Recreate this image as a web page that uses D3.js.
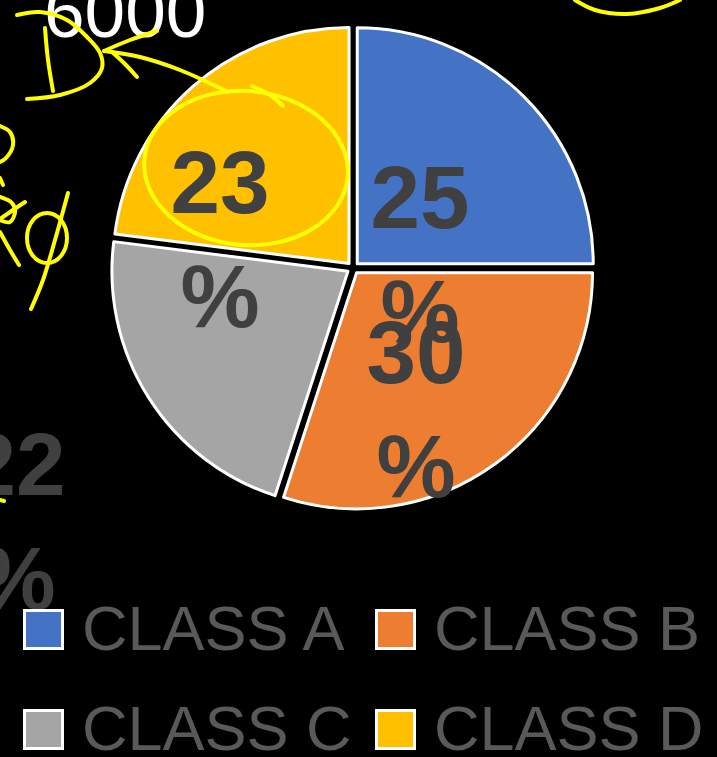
<!DOCTYPE html>
<html>
<head>
<meta charset="utf-8">
<script src="https://cdn.jsdelivr.net/npm/d3@7"></script>
<style>
  html, body { margin: 0; padding: 0; background: #000; }
  svg { display: block; }
</style>
</head>
<body>
<div id="master"></div>
<script>
// chart data
const categories = ["CLASS A", "CLASS B", "CLASS C", "CLASS D"];
const values = [25, 30, 22, 23];
const colors = ["#4472C4", "#ED7D31", "#A5A5A5", "#FFC000"];

let w = 717, h = 757;
let cx = 353, cy = 268, radius = 236, explode = 6;

// where the data labels ended up (offset from pie centre, first line baseline)
let labelOffsets = [[67, -40], [63, 115], [-337, 227], [-133, -55]];

let svg = d3.select("#master").append("svg").attr("width", w).attr("height", h);
svg.append("rect").attr("width", w).attr("height", h).attr("fill", "#000");

// stray axis text at the top
svg.append("text").attr("x", 44).attr("y", 37)
  .attr("font-family", "Liberation Sans, Arial, sans-serif")
  .attr("font-size", 73).attr("fill", "#fff").text("6000");

let pie = d3.pie().sort(null).value(d => d);
let arcs = pie(values);
let arc = d3.arc().innerRadius(0).outerRadius(radius);

let pieG = svg.append("g").attr("transform", "translate(" + cx + "," + cy + ")");

pieG.selectAll("path")
  .data(arcs)
  .enter()
  .append("path")
  .attr("d", arc)
  .attr("transform", d => {
    let mid = (d.startAngle + d.endAngle) / 2;
    return "translate(" + (Math.sin(mid) * explode) + "," + (-Math.cos(mid) * explode) + ")";
  })
  .attr("fill", (d, i) => colors[i])
  .attr("stroke", "#fff")
  .attr("stroke-width", 3)
  .attr("stroke-linejoin", "round");

// labels, wrapped onto two lines like the original
let labels = pieG.selectAll("text.lbl")
  .data(arcs)
  .enter()
  .append("text")
  .attr("class", "lbl")
  .attr("font-family", "Liberation Sans, Arial, sans-serif")
  .attr("font-weight", "bold")
  .attr("font-size", 89)
  .attr("fill", "#404040")
  .attr("text-anchor", "middle");

labels.append("tspan")
  .attr("x", (d, i) => labelOffsets[i][0])
  .attr("y", (d, i) => labelOffsets[i][1])
  .text(d => d.data);
labels.append("tspan")
  .attr("x", (d, i) => labelOffsets[i][0])
  .attr("y", (d, i) => labelOffsets[i][1] + 114)
  .text("%");

// legend
let legend = svg.append("g").attr("id", "legend");
let legendItems = legend.selectAll("g")
  .data(categories)
  .enter()
  .append("g")
  .attr("transform", (d, i) => "translate(" + (i % 2 == 0 ? 23 : 375) + "," + (609 + Math.floor(i / 2) * 100) + ")");

legendItems.append("rect")
  .attr("x", 1.5).attr("y", 1.5)
  .attr("width", 38).attr("height", 38)
  .attr("fill", (d, i) => colors[i])
  .attr("stroke", "#fff").attr("stroke-width", 3);

legendItems.append("text")
  .attr("x", 59).attr("y", 41)
  .attr("font-family", "Liberation Sans, Arial, sans-serif")
  .attr("font-size", 63)
  .attr("fill", "#595959")
  .text(d => d);

// yellow hand-drawn marks over the slide
let ink = svg.append("g").attr("fill", "none").attr("stroke", "#FFFF00")
  .attr("stroke-width", 4).attr("stroke-linecap", "round").attr("stroke-linejoin", "round");
let pen = d3.line().curve(d3.curveCatmullRom);

ink.append("ellipse").attr("cx", 246).attr("cy", 168).attr("rx", 102).attr("ry", 77)
  .attr("transform", "rotate(5 246 168)");
let strokes = [
  [[252, 86], [270, 95], [283, 106]],
  [[228, 92], [180, 70], [140, 57], [104, 51]],
  [[104, 51], [130, 40], [157, 31]],
  [[112, 52], [125, 64], [137, 77]],
  [[17, 15], [40, 12], [67, 20], [87, 37], [100, 53], [102, 68], [90, 83], [60, 95], [27, 99]],
  [[45, 28], [48, 60], [53, 91]],
  [[0, 126], [10, 132], [13, 145], [6, 158], [0, 162]],
  [[0, 178], [3, 185]],
  [[0, 197], [12, 203], [15, 212], [10, 222], [0, 220]],
  [[0, 219], [13, 210], [25, 202]],
  [[0, 232], [10, 250], [19, 265]],
  [[68, 193], [55, 240], [43, 280], [31, 309]],
  [[575, 0], [595, 10], [627, 14], [660, 8], [680, 0]],
  [[0, 500], [4, 501]]
];
ink.selectAll("path.s")
  .data(strokes)
  .enter()
  .append("path")
  .attr("class", "s")
  .attr("d", d => pen(d));
// the phi loop
ink.append("ellipse").attr("cx", 47).attr("cy", 238).attr("rx", 20).attr("ry", 25);
</script>
</body>
</html>
